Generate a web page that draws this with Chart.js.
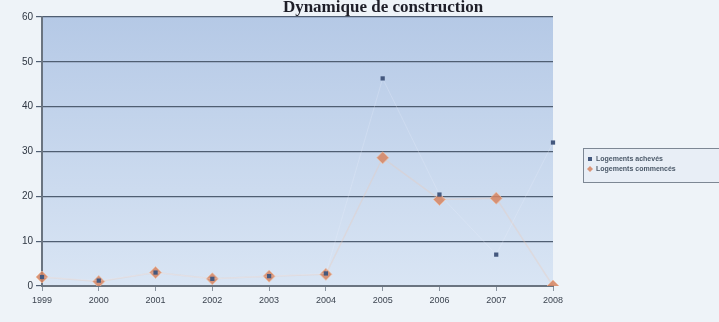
<!DOCTYPE html>
<html>
<head>
<meta charset="utf-8">
<script src="https://cdn.jsdelivr.net/npm/chart.js@4"></script>
<style>
  html, body { margin: 0; padding: 0; background: #eef3f8; }
  #wrap { position: relative; width: 719px; height: 322px; }
</style>
</head>
<body>
<div id="wrap"><canvas id="line-chart" width="719" height="322"></canvas></div>
<script>
const years = ['1999', '2000', '2001', '2002', '2003', '2004', '2005', '2006', '2007', '2008'];
const acheves = [2, 1.2, 3, 1.6, 2.2, 2.8, 46.3, 20.4, 7, 32];
const commences = [2, 1, 3, 1.6, 2.2, 2.6, 28.6, 19.3, 19.6, 0];
const yTicks = [0, 10, 20, 30, 40, 50, 60];
const chartTitle = 'Dynamique de construction';

// plot area fill + title + legend box drawn around the chart
const decor = {
  id: 'decor',
  beforeDraw(chart) {
    const { ctx, chartArea: a } = chart;
    let g = ctx.createLinearGradient(0, a.top, 0, a.bottom);
    g.addColorStop(0, '#b5c9e6');
    g.addColorStop(1, '#d9e5f4');
    ctx.save();
    ctx.fillStyle = g;
    ctx.fillRect(a.left, a.top, a.right - a.left, a.bottom - a.top);
    ctx.restore();
  },
  afterDraw(chart) {
    const { ctx } = chart;
    ctx.save();
    ctx.fillStyle = '#1e1e28';
    ctx.font = 'bold 17px "Liberation Serif", serif';
    ctx.textAlign = 'center';
    ctx.textBaseline = 'alphabetic';
    ctx.fillText(chartTitle, 383, 12);

    // legend
    ctx.fillStyle = '#e8eef6';
    ctx.fillRect(583, 148, 140, 34);
    ctx.strokeStyle = '#7d8794';
    ctx.lineWidth = 1;
    ctx.strokeRect(583.5, 148.5, 140, 34);
    ctx.font = 'bold 7px "Liberation Sans", Arial, sans-serif';
    ctx.textAlign = 'left';
    ctx.textBaseline = 'middle';
    chart.data.datasets.forEach((ds, i) => {
      const y = 159 + i * 10;
      ctx.fillStyle = ds.pointBackgroundColor;
      if (i === 0) {
        ctx.fillRect(588, y - 2, 4, 4);
      } else {
        ctx.beginPath();
        ctx.moveTo(590, y - 3); ctx.lineTo(593, y); ctx.lineTo(590, y + 3); ctx.lineTo(587, y);
        ctx.closePath(); ctx.fill();
      }
      ctx.fillStyle = '#4a5868';
      ctx.fillText(ds.label, 596, y);
    });
    ctx.restore();
  }
};

let ctx = document.getElementById('line-chart').getContext('2d');
window.myLine = new Chart(ctx, {
  type: 'line',
  data: {
    labels: years,
    datasets: [
      {
        label: 'Logements achevés',
        data: acheves,
        borderColor: 'rgba(235, 240, 250, 0.25)',
        borderWidth: 1,
        pointStyle: 'rect',
        pointRadius: 3,
        pointBackgroundColor: '#44587e',
        pointBorderColor: '#44587e',
        pointBorderWidth: 0
      },
      {
        label: 'Logements commencés',
        data: commences,
        borderColor: 'rgba(240, 200, 175, 0.3)',
        borderWidth: 1.5,
        pointStyle: 'rectRot',
        pointRadius: 6,
        pointBackgroundColor: 'rgba(214, 132, 96, 0.85)',
        pointBorderColor: 'rgba(240, 190, 160, 0.7)',
        pointBorderWidth: 1
      }
    ]
  },
  options: {
    responsive: false,
    animation: false,
    layout: { padding: { top: 17, right: 166, left: 0, bottom: 0 } },
    plugins: {
      legend: { display: false },
      title: { display: false },
      tooltip: { enabled: false }
    },
    scales: {
      x: {
        offset: false,
        grid: {
          display: true,
          drawOnChartArea: false,
          drawTicks: true,
          tickLength: 5,
          color: '#8a94a0'
        },
        border: { color: '#6a7480', width: 2 },
        ticks: {
          color: '#3c4450',
          font: { family: '"Liberation Sans", Arial, sans-serif', size: 9 },
          padding: 4,
          maxRotation: 0
        },
        afterFit: s => { s.height = 36; }
      },
      y: {
        min: 0,
        max: 60,
        afterBuildTicks: s => { s.ticks = yTicks.map(v => ({ value: v })); },
        grid: {
          color: '#4f5e72',
          lineWidth: 1.2,
          tickLength: 6
        },
        border: { color: '#6a7480', width: 2 },
        ticks: {
          color: '#2e3642',
          font: { family: '"Liberation Sans", Arial, sans-serif', size: 10 },
          padding: 3
        },
        afterFit: s => { s.width = 42; }
      }
    }
  },
  plugins: [decor]
});
</script>
</body>
</html>
